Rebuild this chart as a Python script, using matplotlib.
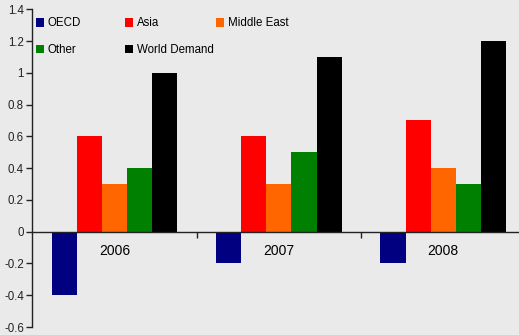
import matplotlib
matplotlib.use("Agg")
import matplotlib.pyplot as plt
from matplotlib.patches import Patch
import numpy as np

plt.rcParams['font.family'] = ['Liberation Sans', 'DejaVu Sans']

years = ["2006", "2007", "2008"]
series_names = ["OECD", "Asia", "Middle East", "Other", "World Demand"]
oecd = [-0.4, -0.2, -0.2]
asia = [0.6, 0.6, 0.7]
middle_east = [0.3, 0.3, 0.4]
other = [0.4, 0.5, 0.3]
world = [1.0, 1.1, 1.2]
colors = ["#000080", "#ff0000", "#ff6600", "#008000", "#000000"]
yticks = [-0.6, -0.4, -0.2, 0, 0.2, 0.4, 0.6, 0.8, 1, 1.2, 1.4]

bg = "#eaeaea"
W, H = 519, 335
fs = 8.3
fig = plt.figure(figsize=(W / 100, H / 100), dpi=100, facecolor=bg)
ax = fig.add_axes([32.3 / W, 8 / H, (525.5 - 32.3) / W, (327 - 9.3) / H])
ax.set_facecolor(bg)

x = np.arange(1, len(years) + 1)
w = 0.153
data = [oecd, asia, middle_east, other, world]
for i, (vals, c) in enumerate(zip(data, colors)):
    ax.bar(x + (i - 2) * w, vals, width=w, color=c, linewidth=0)

ax.set_xlim(0.5, 3.5)
ax.set_ylim(-0.6, 1.4)
ax.set_yticks(yticks)
ax.set_yticklabels([f"{v:g}" for v in yticks], fontsize=fs)
ax.tick_params(axis='y', direction='out', length=4, width=1, pad=2, colors='#222222')

# category boundaries get tick marks, labels sit at the category centres
ax.set_xticks([1.5, 2.5, 3.5])
ax.set_xticklabels([])
ax.set_xticks(x, minor=True)
ax.set_xticklabels(years, minor=True, fontsize=fs)
ax.tick_params(axis='x', which='major', direction='out', length=4, width=1, colors='#222222')
ax.tick_params(axis='x', which='minor', length=0, pad=9)

ax.spines['bottom'].set_position(('data', 0))
for s in ['top', 'right']:
    ax.spines[s].set_visible(False)
for s in ['left', 'bottom']:
    ax.spines[s].set_color('#222222')
    ax.spines[s].set_linewidth(1)

# legend laid out as three fixed-width columns
columns = [[0, 3], [1, 4], [2]]
col_x = [36, 125, 216]
for cols, cx in zip(columns, col_x):
    handles = [Patch(facecolor=colors[k], edgecolor='none', label=series_names[k]) for k in cols]
    fig.legend(handles=handles, loc='upper left',
               bbox_to_anchor=(cx / W, 1 - 17.5 / H), bbox_transform=fig.transFigure,
               frameon=False, fontsize=fs, handlelength=0.7, handleheight=0.7,
               handletextpad=0.3, labelspacing=1.25, borderpad=0, borderaxespad=0)

fig.savefig("out.png", dpi=100, facecolor=bg)
